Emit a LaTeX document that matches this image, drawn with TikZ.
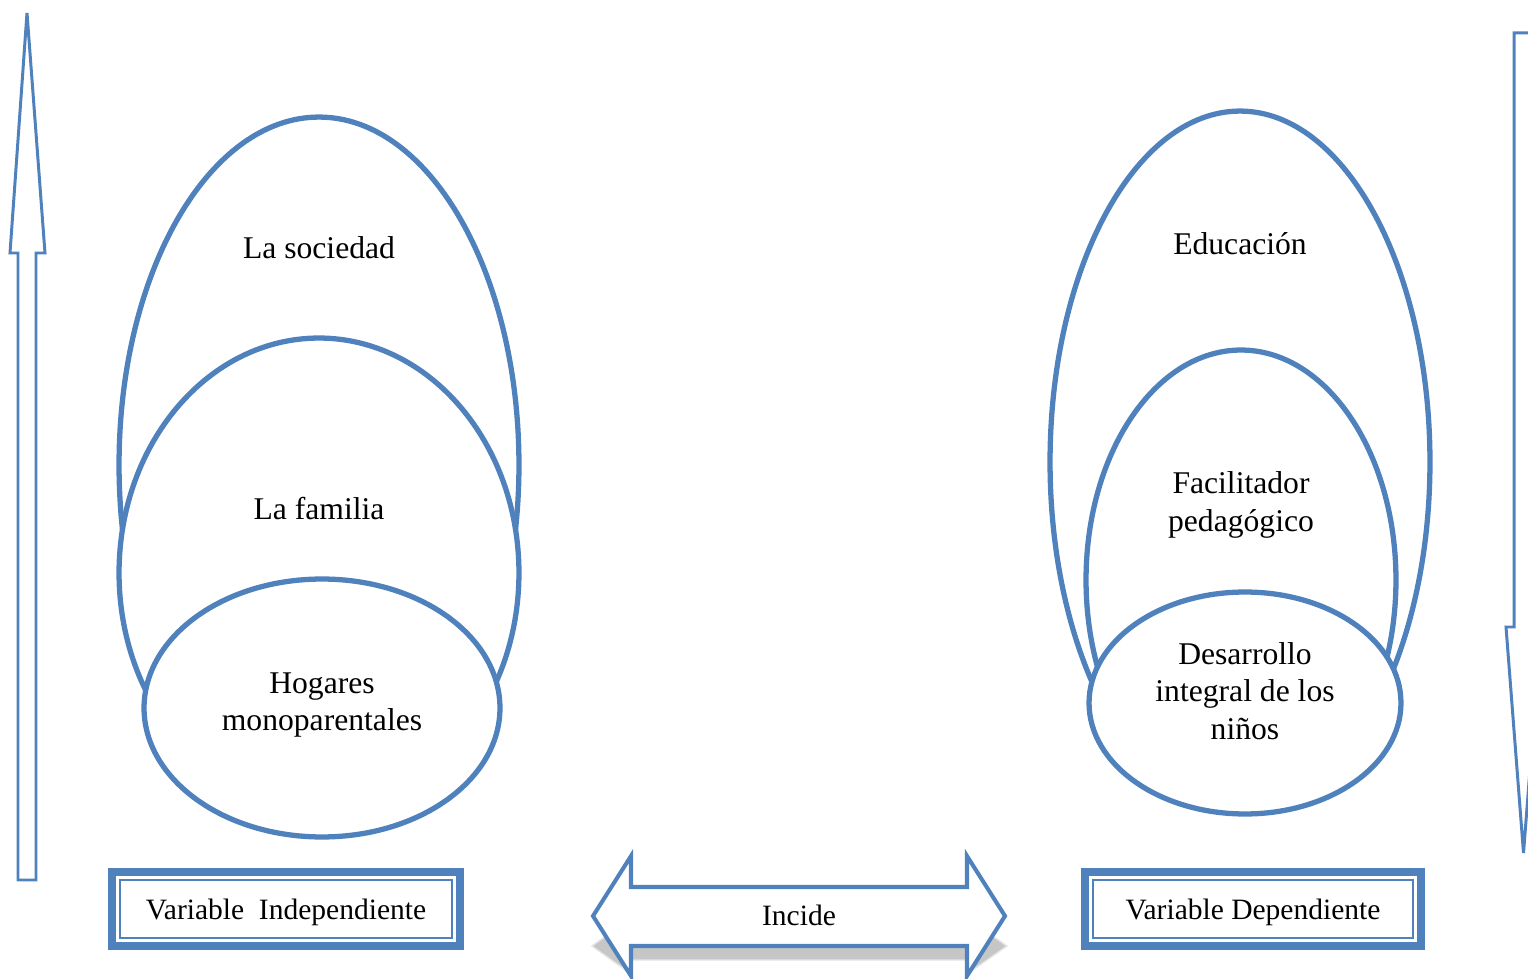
\documentclass[tikz,border=0pt]{standalone}
\usepackage{fontspec}
\setmainfont{Liberation Serif}
\usetikzlibrary{shapes.geometric}
\definecolor{azul}{RGB}{79,129,189}
\tikzset{
  ovalo/.style={ellipse, draw=azul, line width=3pt, fill=white, inner sep=0pt},
  texto/.style={align=center, font=\fontsize{18}{21.5}\selectfont},
  caja/.style={draw=azul, line width=4.5pt, fill=white, outer sep=0pt, minimum height=1.48cm, text depth=0pt, font=\fontsize{16.8}{19}\selectfont},
  flecha/.style={draw=azul, line width=1.7pt, line join=miter},
}
\begin{document}
\begin{tikzpicture}[x=0.02cm, y=-0.02cm]
\useasboundingbox (0,0) rectangle (1528,979);
\node[ovalo, minimum width=8cm, minimum height=13.92cm] (sociedad) at (319,465) {};
\node[ovalo, minimum width=8cm, minimum height=9.4cm] (familia) at (319,573) {};
\node[ovalo, minimum width=7.12cm, minimum height=5.16cm] (hogares) at (322,708) {};
\node[texto] (tsociedad) at (319,248) {La sociedad};
\node[texto] (tfamilia) at (319,509) {La familia};
\node[texto] (thogares) at (322,705) {Hogares\\monoparentales};

\node[ovalo, minimum width=7.6cm, minimum height=14.04cm] (educacion) at (1240,462) {};
\node[ovalo, minimum width=6.2cm, minimum height=9.2cm] (facilitador) at (1241,580) {};
\node[ovalo, minimum width=6.24cm, minimum height=4.44cm] (desarrollo) at (1245,703) {};
\node[texto] (teducacion) at (1240,244) {Educación};
\node[texto] (tfacilitador) at (1241,505) {Facilitador\\pedagógico};
\node[texto] (tdesarrollo) at (1245,691) {Desarrollo\\integral de los\\niños};

\draw[flecha] (27,13) -- (45,253) -- (36,253) -- (36,880) -- (18,880) -- (18,253) -- (10,253) -- cycle;
\draw[flecha] (1514,33) -- (1533,33) -- (1533,627) -- (1541,627) -- (1523.5,853) -- (1506,627) -- (1514,627) -- cycle;

\node[caja, minimum width=6.96cm] (vi) at (286,909) {Variable\ \ Independiente};
\draw[azul, line width=1.3pt] ([shift={(8,8)}]vi.north west) rectangle ([shift={(-8,-8)}]vi.south east);
\node[caja, minimum width=6.72cm] (vd) at (1253,909) {Variable Dependiente};
\draw[azul, line width=1.3pt] ([shift={(8,8)}]vd.north west) rectangle ([shift={(-8,-8)}]vd.south east);

\fill[gray!45, draw=gray!20, line width=0.8pt] (592,946) -- (631,918) -- (631,932) -- (967,932) -- (967,918) -- (1007,946) -- (967,974) -- (967,960) -- (631,960) -- (631,974) -- cycle;
\draw[flecha, line width=2.3pt, fill=white] (593,916) -- (631,856) -- (631,887) -- (967,887) -- (967,856) -- (1005,916) -- (967,976) -- (967,946) -- (631,946) -- (631,976) -- cycle;
\node[font=\fontsize{16.8}{19}\selectfont, text depth=0pt] (incide) at (799,915) {Incide};
\end{tikzpicture}
\end{document}
